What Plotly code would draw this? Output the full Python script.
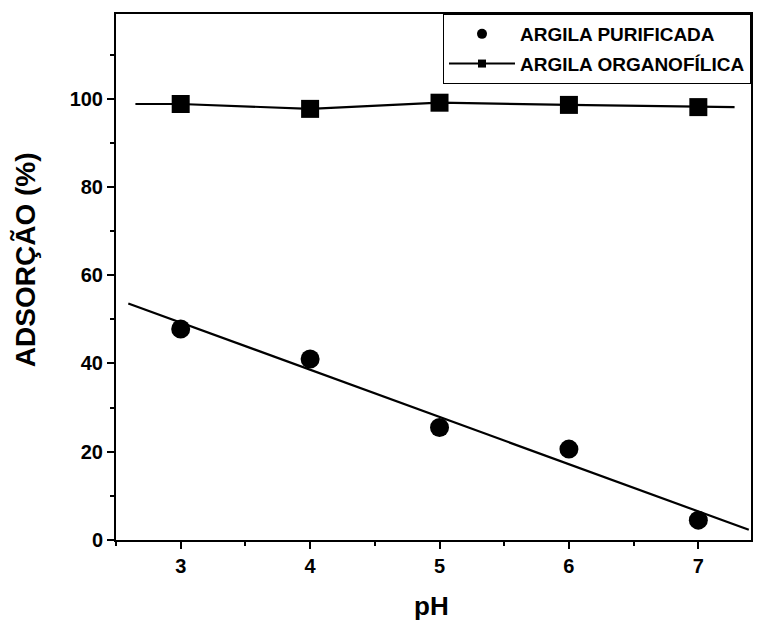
import numpy as np
import plotly.graph_objects as go

# Data
ph = [3, 4, 5, 6, 7]
purificada = [47.8, 41.0, 25.5, 20.6, 4.5]
organofilica = [98.8, 97.7, 99.1, 98.6, 98.1]
x_ticks = [3, 4, 5, 6, 7]
y_ticks = [0, 20, 40, 60, 80, 100]
name_pur = "ARGILA PURIFICADA"
name_org = "ARGILA ORGANOFÍLICA"

FONT = "Liberation Sans, Arial, sans-serif"

# linear fit for purified clay
slope, intercept = np.polyfit(ph, purificada, 1)
fit_x = np.linspace(2.595, 7.39, 50)
fit_y = slope * fit_x + intercept

# organophilic line, extended flat beyond the first/last points
org_line_x = [2.65] + ph + [7.28]
org_line_y = [organofilica[0]] + organofilica + [organofilica[-1]]

fig = go.Figure()
fig.add_trace(go.Scatter(x=fit_x, y=fit_y, mode="lines",
                         line=dict(color="black", width=2.2), showlegend=False))
fig.add_trace(go.Scatter(x=ph, y=purificada, mode="markers",
                         marker=dict(symbol="circle", size=19, color="black"),
                         showlegend=False))
fig.add_trace(go.Scatter(x=org_line_x, y=org_line_y, mode="lines",
                         line=dict(color="black", width=2.2), showlegend=False))
fig.add_trace(go.Scatter(x=ph, y=organofilica, mode="markers",
                         marker=dict(symbol="square", size=18, color="black"),
                         showlegend=False))
# legend entries
fig.add_trace(go.Scatter(x=[None], y=[None], mode="markers", name=name_pur,
                         marker=dict(symbol="circle", size=10, color="black"),
                         legendgroup="a"))
fig.add_trace(go.Scatter(x=[None], y=[None], mode="lines+markers", name=name_org,
                         marker=dict(symbol="square", size=8, color="black"),
                         line=dict(color="black", width=2), legendgroup="b"))

axis_common = dict(
    showline=True, linecolor="black", linewidth=2, mirror=True,
    ticks="outside", ticklen=7, tickwidth=2, tickcolor="black",
    showgrid=False, zeroline=False,
    tickfont=dict(family=FONT, size=20, color="black", weight="bold"),
)

fig.update_layout(
    width=761, height=621,
    margin=dict(l=116, r=10, t=14, b=81, autoexpand=False),
    plot_bgcolor="white", paper_bgcolor="white",
    xaxis=dict(range=[2.5, 7.407], tickvals=x_ticks,
               minor=dict(dtick=0.5, ticks="outside", ticklen=4, tickwidth=2,
                          tickcolor="black"),
               **axis_common),
    yaxis=dict(range=[0, 119.2], tickvals=y_ticks,
               minor=dict(dtick=10, ticks="outside", ticklen=4, tickwidth=2,
                          tickcolor="black"),
               **axis_common),
    legend=dict(x=1, y=1, xanchor="right", yanchor="top",
                bordercolor="black", borderwidth=1, bgcolor="white",
                font=dict(family=FONT, size=19, color="black", weight="bold"),
                tracegroupgap=2, itemwidth=66),
    annotations=[
        dict(text="ADSORÇÃO (%)", xref="paper", yref="paper",
             x=-0.1433, y=0.532, xanchor="center", yanchor="middle",
             showarrow=False, textangle=-90,
             font=dict(family=FONT, size=28, color="black", weight="bold")),
        dict(text="pH", xref="paper", yref="paper",
             x=0.4976, y=-0.1255, xanchor="center", yanchor="middle",
             showarrow=False,
             font=dict(family=FONT, size=26, color="black", weight="bold")),
    ],
)

fig.write_html("out.html", config={"displayModeBar": False},
               post_script="document.body.style.margin='0';"
                           "document.body.style.overflow='hidden';")
